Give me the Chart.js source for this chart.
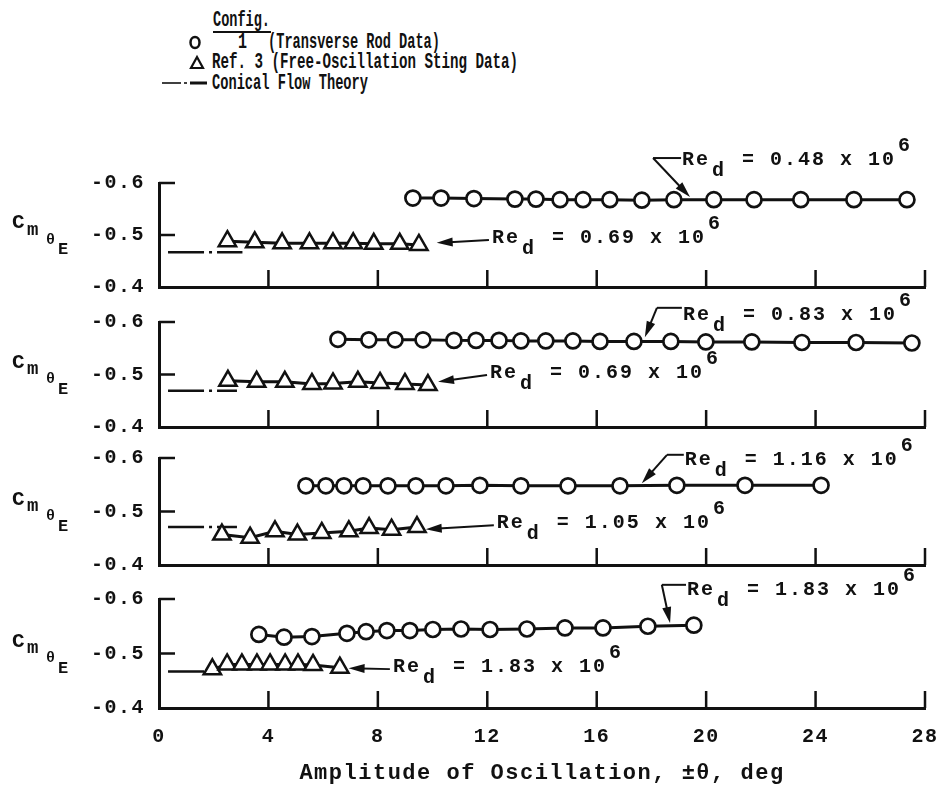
<!DOCTYPE html>
<html>
<head>
<meta charset="utf-8">
<script src="https://cdn.jsdelivr.net/npm/chart.js@4.4.0/dist/chart.umd.min.js"></script>
<style>
  html, body { margin: 0; padding: 0; background: #fff; }
  #page { position: relative; width: 948px; height: 787px; overflow: hidden; background: #fff; }
  #legend { position: absolute; left: 0; top: 0; }
  canvas.panel { position: absolute; left: 0; }
</style>
</head>
<body>
<div id="page">
  <svg id="legend" width="948" height="100">
    <g font-family="Liberation Mono, DejaVu Sans Mono, monospace" font-weight="bold" font-size="22" fill="#111">
      <text x="213" y="26" textLength="57" lengthAdjust="spacingAndGlyphs">Config.</text>
      <line x1="213" y1="32" x2="271" y2="32" stroke="#111" stroke-width="2"/>
      <ellipse cx="195" cy="42.5" rx="4.5" ry="5.5" fill="none" stroke="#111" stroke-width="2.5"/>
      <text x="238" y="48" textLength="9" lengthAdjust="spacingAndGlyphs">1</text>
      <text x="268" y="48" textLength="172" lengthAdjust="spacingAndGlyphs">(Transverse Rod Data)</text>
      <path d="M197 57 L203 68 L191 68 Z" fill="none" stroke="#111" stroke-width="2.2" stroke-linejoin="miter"/>
      <text x="212" y="68" textLength="306" lengthAdjust="spacingAndGlyphs">Ref. 3 (Free-Oscillation Sting Data)</text>
      <line x1="162" y1="83" x2="181" y2="83" stroke="#111" stroke-width="1.6"/>
      <line x1="184" y1="83" x2="187" y2="83" stroke="#111" stroke-width="1.6"/>
      <line x1="190" y1="83" x2="207" y2="83" stroke="#111" stroke-width="3"/>
      <text x="212" y="89" textLength="156" lengthAdjust="spacingAndGlyphs">Conical Flow Theory</text>
    </g>
  </svg>
  <canvas id="p1" class="panel"></canvas>
  <canvas id="p2" class="panel"></canvas>
  <canvas id="p3" class="panel"></canvas>
  <canvas id="p4" class="panel"></canvas>
</div>
<script>
'use strict';

const INK = '#111';
const MONO = '"Liberation Mono", "DejaVu Sans Mono", monospace';

// x axis (amplitude, deg) and y axis (Cm theta E) ticks
const xTicks = [0, 4, 8, 12, 16, 20, 24, 28];
const yTicks = [-0.6, -0.5, -0.4];
const xTitle = 'Amplitude of Oscillation, \u00b1\u03b8, deg';

// panel 1
const circX1 = [9.28, 10.31, 11.51, 13.01, 13.78, 14.66, 15.5, 16.48, 17.65, 18.82, 20.28, 21.75, 23.46, 25.4, 27.34];
const circY1 = [-0.571, -0.571, -0.570, -0.569, -0.569, -0.568, -0.568, -0.568, -0.567, -0.568, -0.568, -0.568, -0.568, -0.568, -0.568];
const triX1 = [2.5, 3.5, 4.5, 5.5, 6.36, 7.1, 7.85, 8.8, 9.5];
const triY1 = [-0.488, -0.486, -0.484, -0.484, -0.484, -0.484, -0.483, -0.483, -0.481];
const coneX1 = [0.33, 3.05];
const coneY1 = -0.467;

// panel 2
const circX2 = [6.54, 7.67, 8.63, 9.65, 10.78, 11.59, 12.43, 13.23, 14.14, 15.13, 16.12, 17.36, 18.71, 19.99, 21.67, 23.5, 25.48, 27.52];
const circY2 = [-0.567, -0.566, -0.566, -0.566, -0.565, -0.565, -0.565, -0.564, -0.564, -0.564, -0.563, -0.563, -0.563, -0.562, -0.562, -0.561, -0.561, -0.560];
const triX2 = [2.52, 3.57, 4.6, 5.59, 6.36, 7.27, 8.08, 8.99, 9.83];
const triY2 = [-0.488, -0.486, -0.486, -0.482, -0.483, -0.486, -0.484, -0.482, -0.480];
const coneX2 = [0.33, 2.85];
const coneY2 = -0.469;

// panel 3
const circX3 = [5.37, 6.1, 6.76, 7.46, 8.37, 9.39, 10.49, 11.73, 13.23, 14.95, 16.85, 18.93, 21.42, 24.2];
const circY3 = [-0.548, -0.548, -0.548, -0.548, -0.548, -0.548, -0.548, -0.549, -0.548, -0.548, -0.548, -0.549, -0.549, -0.549];
const triX3 = [2.3, 3.33, 4.24, 5.06, 5.95, 6.94, 7.68, 8.5, 9.43];
const triY3 = [-0.457, -0.451, -0.463, -0.457, -0.46, -0.463, -0.469, -0.466, -0.471];
const coneX3 = [0.33, 2.85];
const coneY3 = -0.471;

// panel 4
const circX4 = [3.65, 4.57, 5.59, 6.87, 7.57, 8.33, 9.17, 10.01, 11.04, 12.1, 13.45, 14.84, 16.23, 17.87, 19.55];
const circY4 = [-0.535, -0.530, -0.531, -0.537, -0.540, -0.542, -0.542, -0.544, -0.545, -0.544, -0.545, -0.547, -0.547, -0.550, -0.552];
const triX4 = [1.95, 2.49, 3.03, 3.58, 4.06, 4.61, 5.08, 5.63, 6.61];
const triY4 = [-0.471, -0.480, -0.480, -0.480, -0.480, -0.480, -0.480, -0.479, -0.474];
const coneX4 = [0.33, 1.97];
const coneY4 = -0.467;

// Reynolds numbers (x 10^6) of each panel
const reCirc = ['0.48', '0.83', '1.16', '1.83'];
const reTri = ['0.69', '0.69', '1.05', '1.83'];

// where the Re labels and their arrows sit, in data units of each panel
const labelSpots = [
  { c: { tx: 19.12, ty: -0.644, kx: 18.06, ky: -0.648, ax: 19.41, ay: -0.573 }, t: { tx: 12.17, ty: -0.494, ax: 10.15, ay: -0.485 } },
  { c: { tx: 19.15, ty: -0.613, kx: 18.2, ky: -0.627, ax: 17.76, ay: -0.571 }, t: { tx: 12.1, ty: -0.503, ax: 10.2, ay: -0.486 } },
  { c: { tx: 19.22, ty: -0.596, kx: 18.57, ky: -0.606, ax: 17.65, ay: -0.553 }, t: { tx: 12.35, ty: -0.478, ax: 9.75, ay: -0.467 } },
  { c: { tx: 19.3, ty: -0.617, kx: 18.38, ky: -0.626, ax: 18.68, ay: -0.556 }, t: { tx: 8.55, ty: -0.475, ax: 6.93, ay: -0.473 } }
];

// canvas band and plot area (page pixels) of each panel
const bands = [
  { top: 120, bottom: 300, areaTop: 183, areaBottom: 287 },
  { top: 288, bottom: 440, areaTop: 322, areaBottom: 427 },
  { top: 428, bottom: 578, areaTop: 458, areaBottom: 565 },
  { top: 565, bottom: 787, areaTop: 599, areaBottom: 708 }
];

function pts(xs, ys) {
  return xs.map((x, i) => ({ x: x, y: Array.isArray(ys) ? ys[i] : ys }));
}

function arrow(ctx, x1, y1, x2, y2) {
  const ang = Math.atan2(y2 - y1, x2 - x1);
  const len = 16, half = 4.5;
  ctx.beginPath();
  ctx.moveTo(x1, y1);
  ctx.lineTo(x2 - Math.cos(ang) * len * 0.8, y2 - Math.sin(ang) * len * 0.8);
  ctx.stroke();
  ctx.beginPath();
  ctx.moveTo(x2, y2);
  ctx.lineTo(x2 - Math.cos(ang) * len - Math.sin(ang) * half, y2 - Math.sin(ang) * len + Math.cos(ang) * half);
  ctx.lineTo(x2 - Math.cos(ang) * len + Math.sin(ang) * half, y2 - Math.sin(ang) * len - Math.cos(ang) * half);
  ctx.closePath();
  ctx.fill();
}

function reText(ctx, x, y, val) {
  ctx.font = 'bold 20px ' + MONO;
  ctx.fillText('Re', x, y);
  ctx.fillText('d', x + 30, y + 11);
  const rest = ' = ' + val + ' x 10';
  ctx.fillText(rest, x + 46, y);
  const w = ctx.measureText(rest).width;
  ctx.fillText('6', x + 46 + w + 2, y - 14);
}

const decor = {
  id: 'decor',
  beforeDraw(chart) {
    chart.ctx.letterSpacing = '1.5px';
  },
  beforeDatasetsDraw(chart) {
    const { ctx, chartArea, scales: { x, y } } = chart;
    ctx.save();
    ctx.strokeStyle = INK;
    ctx.lineWidth = 2.5;
    ctx.beginPath();
    xTicks.forEach(v => {
      if (v === 0) return;
      const px = x.getPixelForValue(v);
      ctx.moveTo(px, chartArea.bottom);
      ctx.lineTo(px, chartArea.bottom - 17);
    });
    [-0.6, -0.5].forEach(v => {
      const py = y.getPixelForValue(v);
      ctx.moveTo(chartArea.left, py);
      ctx.lineTo(chartArea.left + 16, py);
    });
    ctx.stroke();
    ctx.restore();
  },
  afterDraw(chart, args, opts) {
    const { ctx, scales: { x, y } } = chart;
    const n = opts.panel;
    const spot = labelSpots[n];
    ctx.save();
    ctx.fillStyle = INK;
    ctx.strokeStyle = INK;
    ctx.lineWidth = 2;
    ctx.textAlign = 'left';
    ctx.textBaseline = 'middle';
    ctx.letterSpacing = '2px';

    // circle series label: elbow leader with arrow
    const c = spot.c;
    const ctx0 = x.getPixelForValue(c.tx), cty = y.getPixelForValue(c.ty);
    const kx = x.getPixelForValue(c.kx), ky = y.getPixelForValue(c.ky);
    ctx.beginPath();
    ctx.moveTo(kx, ky);
    ctx.lineTo(ctx0 - 1, ky);
    ctx.stroke();
    arrow(ctx, kx, ky, x.getPixelForValue(c.ax), y.getPixelForValue(c.ay));
    reText(ctx, ctx0, cty, reCirc[n]);

    // triangle series label: straight arrow back to the last triangle
    const t = spot.t;
    const ttx = x.getPixelForValue(t.tx), tty = y.getPixelForValue(t.ty);
    arrow(ctx, ttx - 3, tty + 2, x.getPixelForValue(t.ax), y.getPixelForValue(t.ay));
    reText(ctx, ttx, tty, reTri[n]);

    // y title  C m theta E
    const yp = y.getPixelForValue(-0.5);
    ctx.letterSpacing = '0px';
    ctx.font = 'bold 21px ' + MONO;
    ctx.fillText('C', 12, yp - 12);
    ctx.font = 'bold 19px ' + MONO;
    ctx.fillText('m', 27, yp - 5);
    ctx.font = 'bold 15px ' + MONO;
    ctx.fillText('\u03b8', 46, yp + 5);
    ctx.font = 'bold 17px ' + MONO;
    ctx.fillText('E', 58, yp + 15);
    ctx.restore();
    ctx.letterSpacing = '0px';
  }
};

function makePanel(id, n, circX, circY, triX, triY, coneX, coneY) {
  const band = bands[n];
  const last = n === bands.length - 1;
  const canvas = document.getElementById(id);
  canvas.width = 948;
  canvas.height = band.bottom - band.top;
  canvas.style.top = band.top + 'px';

  return new Chart(canvas, {
    type: 'scatter',
    data: {
      datasets: [
        {
          data: pts(circX, circY),
          showLine: true,
          borderColor: INK,
          borderWidth: 3,
          pointStyle: 'circle',
          pointRadius: 7.5,
          pointBorderWidth: 2.7,
          pointBorderColor: INK,
          pointBackgroundColor: '#fff'
        },
        {
          data: pts(triX, triY),
          showLine: true,
          borderColor: INK,
          borderWidth: 3,
          pointStyle: 'triangle',
          pointRadius: 10,
          pointBorderWidth: 2.5,
          pointBorderColor: INK,
          pointBackgroundColor: '#fff'
        },
        {
          data: pts(coneX, coneY),
          showLine: true,
          borderColor: INK,
          borderWidth: 2.5,
          borderDash: [36, 5, 3, 5],
          pointRadius: 0
        }
      ]
    },
    options: {
      responsive: false,
      animation: false,
      events: [],
      layout: { padding: { top: band.areaTop - band.top, right: 23, left: 0, bottom: 0 } },
      plugins: {
        legend: { display: false },
        tooltip: { enabled: false },
        decor: { panel: n }
      },
      scales: {
        x: {
          type: 'linear',
          min: 0,
          max: 28,
          grid: { display: false, drawTicks: false },
          border: { display: true, width: 3, color: INK },
          ticks: {
            display: last,
            stepSize: 4,
            color: INK,
            padding: 17,
            font: { family: MONO, size: 20, weight: 'bold' }
          },
          title: {
            display: last,
            text: xTitle,
            color: INK,
            padding: { top: 4, bottom: 0 },
            font: { family: MONO, size: 22, weight: 'bold' }
          },
          afterFit(s) {
            s.height = band.bottom - band.areaBottom;
            s.paddingLeft = 0;
            s.paddingRight = 0;
          }
        },
        y: {
          type: 'linear',
          min: -0.6,
          max: -0.4,
          reverse: true,
          grid: { display: false, drawTicks: false },
          border: { display: true, width: 3, color: INK },
          afterBuildTicks(s) {
            s.ticks = yTicks.map(v => ({ value: v }));
          },
          ticks: {
            color: INK,
            padding: 14,
            font: { family: MONO, size: 20, weight: 'bold' },
            callback: v => v.toFixed(1)
          },
          afterFit(s) {
            s.width = 159;
            s.paddingTop = 0;
            s.paddingBottom = 0;
          }
        }
      }
    },
    plugins: [decor]
  });
}

makePanel('p1', 0, circX1, circY1, triX1, triY1, coneX1, coneY1);
makePanel('p2', 1, circX2, circY2, triX2, triY2, coneX2, coneY2);
makePanel('p3', 2, circX3, circY3, triX3, triY3, coneX3, coneY3);
makePanel('p4', 3, circX4, circY4, triX4, triY4, coneX4, coneY4);
</script>
</body>
</html>
